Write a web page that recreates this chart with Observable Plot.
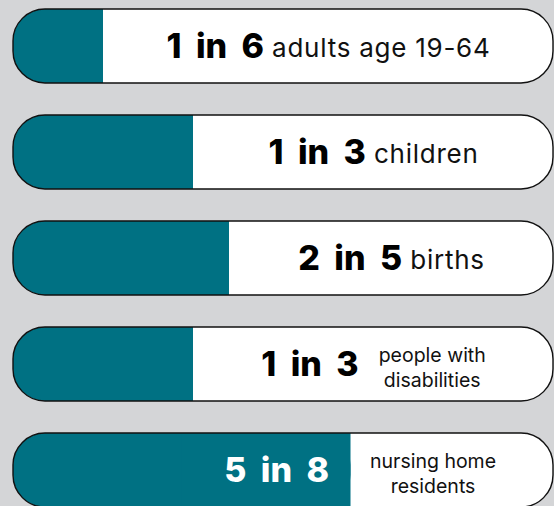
<!DOCTYPE html>
<html><head><meta charset="utf-8">
<script src="https://cdn.jsdelivr.net/npm/d3@7"></script>
<script src="https://cdn.jsdelivr.net/npm/@observablehq/plot@0.6"></script>
<style>html,body{margin:0;padding:0;background:#d4d5d7;overflow:hidden}</style>
</head><body><div id="chart"></div>
<script>
const groups = ["adults", "children", "births", "disabilities", "nursing"];
const numerators = [1, 1, 2, 1, 5];
const denominators = [6, 3, 5, 3, 8];
const ratioLabels = ["1 in 6", "1 in 3", "2 in 5", "1 in 3", "5 in 8"];
const groupLabels = ["adults age 19-64", "children", "births", "people with\ndisabilities", "nursing home\nresidents"];

const TEAL = "#007183";
const X0 = 13, X1 = 553;
const toPx = v => X0 + v * (X1 - X0);
const toData = p => (p - X0) / (X1 - X0);
const NUM_SIZE = 34, NUM_WS = 7;
const LAB_BIG = 26, LAB_BIG_LS = 0.75;
const LAB_SMALL = 19.5, LAB_SMALL_LS = 0;

const ctx = document.createElement("canvas").getContext("2d");
function measure(text, font, ls = 0, ws = 0) {
  ctx.font = font;
  const spaces = (text.match(/ /g) || []).length;
  return ctx.measureText(text).width + ls * text.length + ws * spaces;
}

const rows = groups.map((g, i) => {
  const frac = numerators[i] / denominators[i];
  const label = groupLabels[i];
  const multi = label.includes("\n");
  const labSize = multi ? LAB_SMALL : LAB_BIG;
  const labLs = multi ? LAB_SMALL_LS : LAB_BIG_LS;
  const wn = measure(ratioLabels[i], `800 ${NUM_SIZE}px Inter`, 0, NUM_WS);
  const wl = Math.max(...label.split("\n").map(s => measure(s, `400 ${labSize}px Inter`, labLs)));
  const gap = multi ? 20 : 8;
  const tealEnd = toPx(frac);
  const center = (tealEnd + X1) / 2;
  const total = wn + gap + wl;
  let numEnd = center - total / 2 + wn;
  let labStart = numEnd + gap;
  let numColor = "#000";
  if (center - total / 2 < tealEnd + 8) {
    numEnd = tealEnd - 22;
    labStart = tealEnd + 19;
    numColor = "#fff";
  }
  return {group: g, frac, ratio: ratioLabels[i], label, multi,
          numX: toData(numEnd), labX: toData(labStart + wl / 2), numColor};
});

const chart = Plot.plot({
  width: 554, height: 506, margin: 0,
  style: {background: "#d4d5d7", overflow: "visible"},
  x: {domain: [0, 1], range: [X0, X1], axis: null},
  y: {type: "band", domain: groups, range: [9, 507], paddingInner: 0.302, paddingOuter: 0, round: false, axis: null},
  color: {type: "identity"},
  marks: [
    Plot.barX(rows, {x1: () => 0, x2: () => 1, y: "group", fill: "white", rx: 32}),
    Plot.barX(rows, {x1: () => 0, x2: "frac", y: "group", fill: TEAL, rx: 32}),
    Plot.barX(rows, {x1: d => d.frac / 2, x2: "frac", y: "group", fill: TEAL}),
    Plot.barX(rows, {x1: () => 0, x2: () => 1, y: "group", fill: "none", stroke: "#111", strokeWidth: 1.4, rx: 32}),
    Plot.text(rows, {x: "numX", y: "group", text: "ratio", textAnchor: "end", fill: "numColor",
      fontSize: NUM_SIZE, fontWeight: 800, fontFamily: "Inter", dy: 1}),
    Plot.text(rows.filter(d => !d.multi), {x: "labX", y: "group", text: "label", textAnchor: "middle",
      fill: "#111", fontSize: LAB_BIG, fontFamily: "Inter", dy: 2}),
    Plot.text(rows.filter(d => d.multi), {x: "labX", y: "group", text: "label", textAnchor: "middle",
      fill: "#111", fontSize: LAB_SMALL, fontFamily: "Inter", lineHeight: 1.26, dy: 2})
  ]
});
// widen the gaps between the words of each ratio with tspan offsets (text stays "1 in 6")
const SVGNS = "http://www.w3.org/2000/svg";
chart.querySelectorAll("text").forEach(t => {
  const s = t.textContent;
  if (ratioLabels.includes(s) && !t.querySelector("tspan")) {
    const parts = s.split(" ");
    t.textContent = "";
    parts.forEach((p, j) => {
      const ts = document.createElementNS(SVGNS, "tspan");
      if (j > 0) { ts.setAttribute("dx", NUM_WS); ts.textContent = " " + p; }
      else ts.textContent = p;
      t.appendChild(ts);
    });
  } else if (groupLabels.slice(0, 3).includes(s)) {
    t.setAttribute("letter-spacing", LAB_BIG_LS);
  }
});
document.getElementById("chart").appendChild(chart);
</script>
</body></html>
